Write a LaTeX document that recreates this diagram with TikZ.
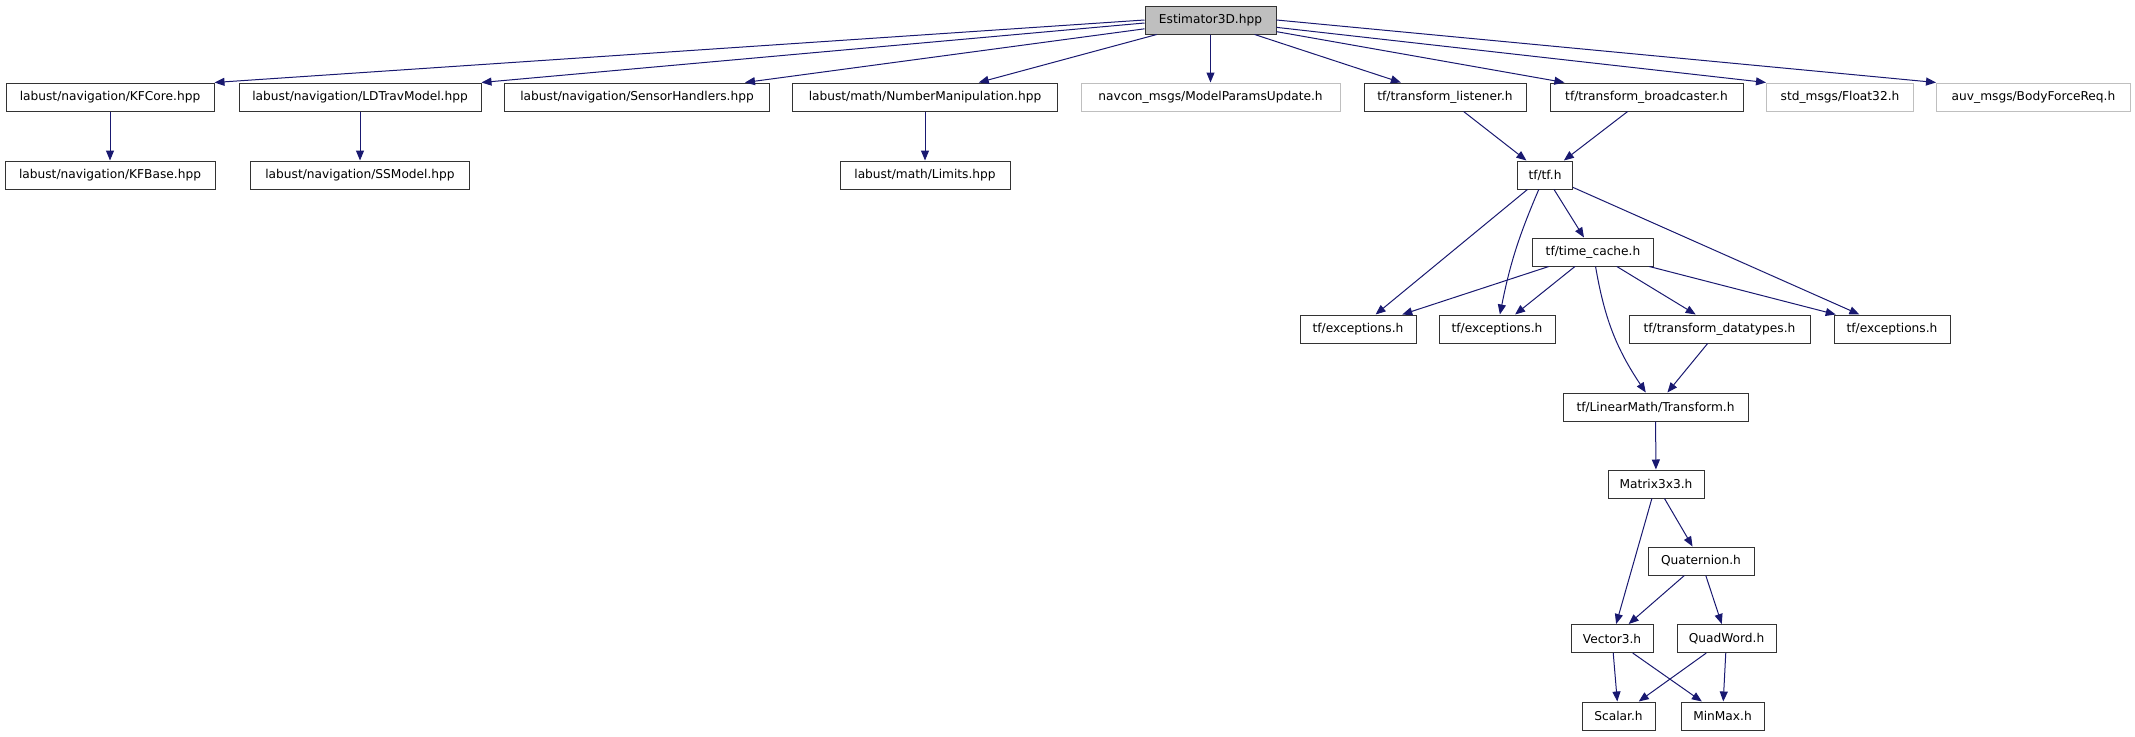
\documentclass[tikz,border=0pt]{standalone}
\usepackage{fontspec}
\setmainfont{DejaVu Sans}
\usetikzlibrary{arrows.meta}
\definecolor{edgeblue}{HTML}{191970}
\definecolor{greyseventyfive}{HTML}{BFBFBF}
\begin{document}
\begin{tikzpicture}[x=1pt,y=-1pt,
  box/.style={draw=black!80, line width=1pt, minimum height=28pt, inner sep=0pt,
              font=\fontsize{12.2}{14}\selectfont, fill=white},
  missing/.style={box, draw=greyseventyfive},
  root/.style={box, fill=greyseventyfive},
  dep/.style={draw=edgeblue, line width=1pt, -{Triangle[length=10pt,width=8pt]}}]
\useasboundingbox (0,0) rectangle (2135,736);
% row 0
\node[root, minimum width=131] (est) at (1210.5,20) {Estimator3D.hpp};
% row 1
\node[box, minimum width=208] (kfcore) at (110,97) {labust/navigation/KFCore.hpp};
\node[box, minimum width=242] (ldtrav) at (360,97) {labust/navigation/LDTravModel.hpp};
\node[box, minimum width=265] (sensor) at (637,97) {labust/navigation/SensorHandlers.hpp};
\node[box, minimum width=265] (numman) at (925,97) {labust/math/NumberManipulation.hpp};
\node[missing, minimum width=259] (model) at (1210.5,97) {navcon\_msgs/ModelParamsUpdate.h};
\node[box, minimum width=162] (tlist) at (1445,97) {tf/transform\_listener.h};
\node[box, minimum width=193] (tbroad) at (1646.5,97) {tf/transform\_broadcaster.h};
\node[missing, minimum width=147] (float) at (1840,97) {std\_msgs/Float32.h};
\node[missing, minimum width=194] (body) at (2033.5,97) {auv\_msgs/BodyForceReq.h};
% row 2
\node[box, minimum width=210] (kfbase) at (110,175) {labust/navigation/KFBase.hpp};
\node[box, minimum width=219] (ssmodel) at (360,175) {labust/navigation/SSModel.hpp};
\node[box, minimum width=170] (limits) at (925,175) {labust/math/Limits.hpp};
\node[box, minimum width=55] (tfh) at (1545,175) {tf/tf.h};
% row 3
\node[box, minimum width=121] (tcache) at (1593,252) {tf/time\_cache.h};
% row 4
\node[box, minimum width=116] (exca) at (1358,329) {tf/exceptions.h};
\node[box, minimum width=116] (excb) at (1497,329) {tf/exceptions.h};
\node[box, minimum width=181] (tdata) at (1719.5,329) {tf/transform\_datatypes.h};
\node[box, minimum width=116] (excc) at (1892,329) {tf/exceptions.h};
% row 5
\node[box, minimum width=185] (transf) at (1655.5,407) {tf/LinearMath/Transform.h};
% row 6
\node[box, minimum width=96] (matrix) at (1656,484) {Matrix3x3.h};
% row 7
\node[box, minimum width=106] (quat) at (1701,561) {Quaternion.h};
% row 8
\node[box, minimum width=82] (vec) at (1612,638.5) {Vector3.h};
\node[box, minimum width=99] (quad) at (1726.5,638.5) {QuadWord.h};
% row 9
\node[box, minimum width=73] (scalar) at (1618.5,716) {Scalar.h};
\node[box, minimum width=83] (minmax) at (1722.5,716) {MinMax.h};
% edges
\draw[dep] (est.west) -- (kfcore.north east);
\draw[dep] (est.west) ++(0,3) -- (ldtrav.north east);
\draw[dep] (est) -- (sensor);
\draw[dep] (est) -- (numman);
\draw[dep] (est) -- (model);
\draw[dep] (est) -- (tlist);
\draw[dep] (est) -- (tbroad);
\draw[dep] (est) -- (float.north west);
\draw[dep] (est.east) -- (body.north west);
\draw[dep] (kfcore) -- (kfbase);
\draw[dep] (ldtrav) -- (ssmodel);
\draw[dep] (numman) -- (limits);
\draw[dep] (tlist) -- (tfh);
\draw[dep] (tbroad) -- (tfh);
\draw[dep] (tfh) -- (exca);
\draw[dep] (tfh) to[bend right=6] (excb);
\draw[dep] (tfh) -- (tcache);
\draw[dep] (tfh) -- (excc);
\draw[dep] (tcache) -- (exca);
\draw[dep] (tcache) -- (excb);
\draw[dep] (tcache) to[bend right=12] (transf);
\draw[dep] (tcache) -- (tdata);
\draw[dep] (tcache) -- (excc);
\draw[dep] (tdata) -- (transf);
\draw[dep] (transf) -- (matrix);
\draw[dep] (matrix) -- (vec);
\draw[dep] (matrix) -- (quat);
\draw[dep] (quat) -- (vec);
\draw[dep] (quat) -- (quad);
\draw[dep] (vec) -- (scalar);
\draw[dep] (vec) -- (minmax);
\draw[dep] (quad) -- (scalar);
\draw[dep] (quad) -- (minmax);
\end{tikzpicture}
\end{document}
